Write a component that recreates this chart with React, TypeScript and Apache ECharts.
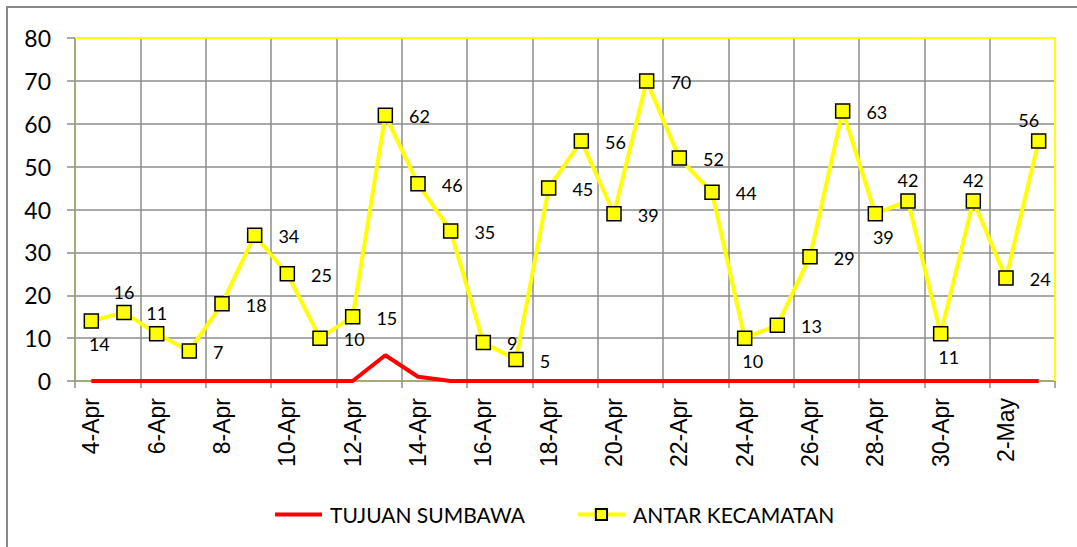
import React, { useEffect, useRef } from "react";
import * as echarts from "echarts";

const categories = [
  "4-Apr", "5-Apr", "6-Apr", "7-Apr", "8-Apr", "9-Apr", "10-Apr", "11-Apr", "12-Apr", "13-Apr",
  "14-Apr", "15-Apr", "16-Apr", "17-Apr", "18-Apr", "19-Apr", "20-Apr", "21-Apr", "22-Apr", "23-Apr",
  "24-Apr", "25-Apr", "26-Apr", "27-Apr", "28-Apr", "29-Apr", "30-Apr", "1-May", "2-May", "3-May",
];

const tujuanSumbawa = [
  0, 0, 0, 0, 0, 0, 0, 0, 0, 6,
  1, 0, 0, 0, 0, 0, 0, 0, 0, 0,
  0, 0, 0, 0, 0, 0, 0, 0, 0, 0,
];

const antarKecamatan = [
  14, 16, 11, 7, 18, 34, 25, 10, 15, 62,
  46, 35, 9, 5, 45, 56, 39, 70, 52, 44,
  10, 13, 29, 63, 39, 42, 11, 42, 24, 56,
];

// label placement per point (layout only)
const labelPlacement = [
  "bottom", "top", "top", "right", "right", "right", "right", "right", "right", "right",
  "right", "right", "right", "right", "right", "right", "right", "right", "right", "right",
  "bottom", "right", "right", "right", "bottom", "top", "bottom", "top", "right", "top",
];

const yTicks = { min: 0, max: 80, interval: 10 };

export default function App() {
  const ref = useRef<HTMLDivElement>(null);

  useEffect(() => {
    if (!ref.current) return;
    const chart = echarts.init(ref.current, null, { renderer: "svg" });

    const labelFont = "Lato, 'Open Sans', sans-serif";

    const yellowData = antarKecamatan.map((v, i) => {
      const p = labelPlacement[i];
      let offset: number[] = [0, 0];
      let distance = 5;
      if (p === "bottom") {
        offset = [8, 0];
        distance = 6;
      } else if (p === "top") {
        offset = i === antarKecamatan.length - 1 ? [-10, 0] : [0, 0];
        distance = 4;
      } else {
        distance = 16;
        offset = [0, 1];
      }
      return {
        value: v,
        label: { position: p, distance, offset },
      };
    });

    const gl = 75, gt = 38, gr = 1055, gb = 381;

    chart.setOption({
      animation: false,
      backgroundColor: "#ffffff",
      grid: { left: gl, top: gt, right: 1077 - gr, bottom: 547 - gb, containLabel: false },
      graphic: [
        {
          type: "rect",
          z: -10,
          shape: { x: 7, y: 7, width: 1200, height: 700 },
          style: { fill: "none", stroke: "#878787", lineWidth: 2 },
          silent: true,
        },
        {
          type: "polyline",
          z: 1,
          shape: { points: [[gl, gt], [gr, gt], [gr, gb]] },
          style: { stroke: "#ffff00", lineWidth: 2, fill: "none" },
          silent: true,
        },
      ],
      legend: {
        top: 499,
        left: 268,
        itemWidth: 47,
        itemHeight: 14,
        itemGap: 51,
        textStyle: {
          fontFamily: labelFont,
          fontSize: 21,
          color: "#000",
          padding: [0, 0, 0, 3],
        },
        data: [
          {
            name: "TUJUAN SUMBAWA",
            itemStyle: { opacity: 0 },
            lineStyle: { width: 4, color: "#ff0000" },
          },
          {
            name: "ANTAR KECAMATAN",
            lineStyle: { width: 4, color: "#ffff00" },
          },
        ],
      },
      xAxis: {
        type: "category",
        data: categories,
        boundaryGap: true,
        axisLine: { show: true, lineStyle: { color: "#a8a860", width: 1.5 } },
        axisTick: {
          show: true,
          interval: 1,
          length: 7,
          lineStyle: { color: "#8c8c8c", width: 1.5 },
        },
        splitLine: {
          show: true,
          interval: 1,
          lineStyle: { color: "#8c8c8c", width: 1.5 },
        },
        axisLabel: {
          interval: 1,
          rotate: 90,
          margin: 17,
          fontFamily: "'Liberation Sans', Arial, sans-serif",
          fontSize: 23,
          color: "#000",
        },
      },
      yAxis: {
        type: "value",
        min: yTicks.min,
        max: yTicks.max,
        interval: yTicks.interval,
        axisLine: { show: true, lineStyle: { color: "#a8a860", width: 1.5 } },
        axisTick: { show: true, length: 8, lineStyle: { color: "#8c8c8c", width: 1.5 } },
        splitLine: { show: true, lineStyle: { color: "#8c8c8c", width: 1.5 } },
        axisLabel: {
          margin: 24,
          fontFamily: labelFont,
          fontSize: 23,
          color: "#000",
        },
      },
      series: [
        {
          name: "TUJUAN SUMBAWA",
          type: "line",
          data: tujuanSumbawa,
          symbol: "none",
          lineStyle: { color: "#ff0000", width: 4 },
          itemStyle: { color: "#ff0000" },
          z: 3,
        },
        {
          name: "ANTAR KECAMATAN",
          type: "line",
          data: yellowData,
          symbol: "rect",
          symbolSize: 14,
          lineStyle: { color: "#ffff00", width: 4 },
          itemStyle: { color: "#ffff00", borderColor: "#000", borderWidth: 1.5 },
          label: {
            show: true,
            fontFamily: labelFont,
            fontSize: 18,
            color: "#000",
          },
          z: 4,
        },
      ],
    });

    return () => chart.dispose();
  }, []);

  return (
    <div
      ref={ref}
      style={{ position: "fixed", left: 0, top: 0, width: 1077, height: 547 }}
    />
  );
}
